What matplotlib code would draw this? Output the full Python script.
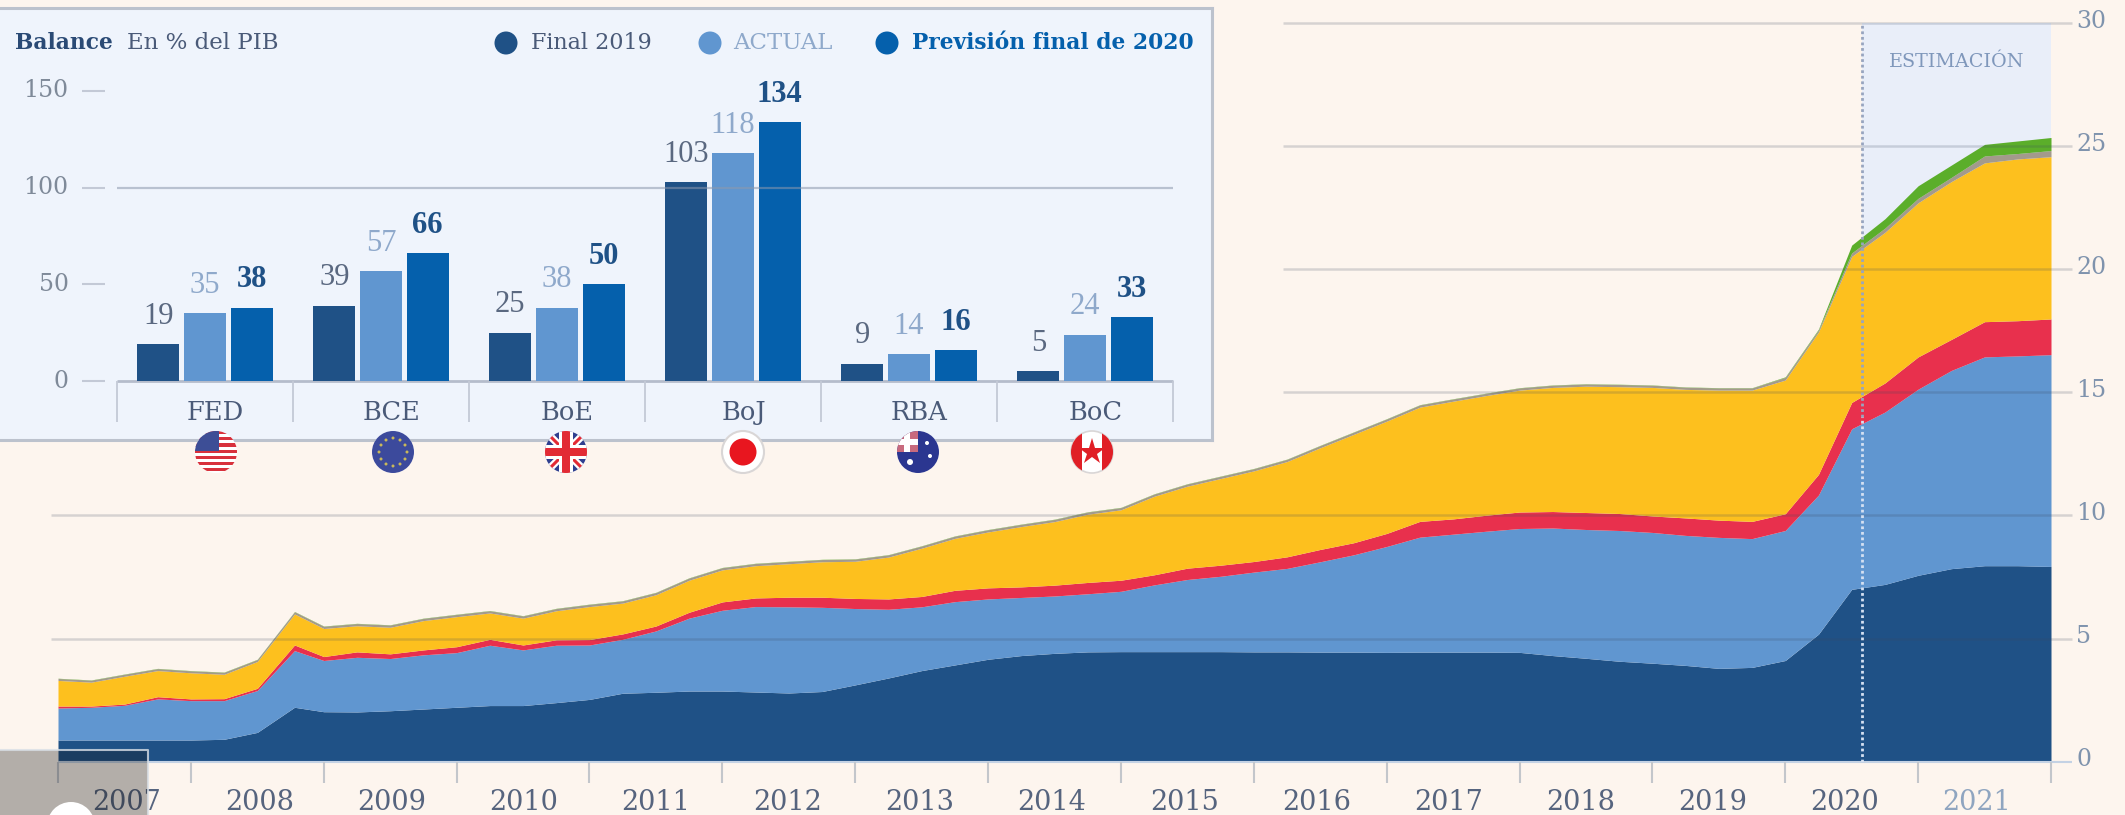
import matplotlib
matplotlib.use("Agg")
import matplotlib.pyplot as plt
from matplotlib.patches import Circle, Rectangle

# Datos del area: valores acumulados (trimestres 2007-2021)
anios = [2007 + t / 4 for t in range(61)]
anios[7] = 2008.78  # el pico de 2008 cae un poco despues del trimestre
azul_oscuro = [0.88, 0.88, 0.88, 0.88, 0.88, 0.91, 1.19, 2.21, 2.03, 2.02, 2.07, 2.14, 2.21, 2.28, 2.28, 2.40,
               2.53, 2.78, 2.82, 2.87, 2.87, 2.83, 2.79, 2.85, 3.12, 3.40, 3.70, 3.93, 4.16, 4.31, 4.40, 4.46,
               4.47, 4.47, 4.47, 4.47, 4.46, 4.46, 4.45, 4.45, 4.44, 4.45, 4.45, 4.45, 4.44, 4.31, 4.20, 4.08,
               4.00, 3.91, 3.79, 3.83, 4.11, 5.18, 7.00, 7.20, 7.57, 7.84, 7.96, 7.96, 7.93]
azul_claro = [2.18, 2.21, 2.29, 2.55, 2.48, 2.48, 2.89, 4.51, 4.11, 4.24, 4.19, 4.34, 4.43, 4.73, 4.54, 4.73,
              4.74, 4.97, 5.31, 5.83, 6.15, 6.30, 6.29, 6.27, 6.22, 6.19, 6.29, 6.50, 6.61, 6.67, 6.73, 6.82,
              6.92, 7.18, 7.40, 7.53, 7.70, 7.85, 8.12, 8.40, 8.74, 9.12, 9.24, 9.36, 9.47, 9.49, 9.43, 9.39,
              9.31, 9.19, 9.11, 9.06, 9.39, 10.83, 13.52, 14.20, 15.13, 15.89, 16.44, 16.48, 16.53]
rojo = [2.26, 2.26, 2.34, 2.64, 2.55, 2.56, 2.98, 4.74, 4.27, 4.46, 4.38, 4.54, 4.67, 4.97, 4.74, 4.95,
        4.96, 5.19, 5.51, 6.07, 6.49, 6.65, 6.68, 6.68, 6.63, 6.61, 6.71, 6.96, 7.06, 7.10, 7.17, 7.28,
        7.37, 7.59, 7.86, 7.98, 8.13, 8.32, 8.62, 8.89, 9.27, 9.76, 9.86, 10.01, 10.14, 10.16, 10.12, 10.08,
        9.98, 9.90, 9.81, 9.76, 10.07, 11.67, 14.59, 15.38, 16.44, 17.15, 17.87, 17.91, 17.98]
amarillo = [3.30, 3.23, 3.47, 3.70, 3.61, 3.55, 4.07, 6.00, 5.41, 5.52, 5.46, 5.73, 5.89, 6.04, 5.83, 6.13,
            6.30, 6.44, 6.78, 7.37, 7.79, 7.96, 8.04, 8.12, 8.14, 8.31, 8.67, 9.07, 9.33, 9.55, 9.75, 10.05,
            10.23, 10.78, 11.19, 11.50, 11.81, 12.19, 12.75, 13.29, 13.83, 14.40, 14.64, 14.87, 15.09, 15.20, 15.25, 15.23,
            15.20, 15.12, 15.09, 15.09, 15.50, 17.45, 20.52, 21.50, 22.70, 23.56, 24.32, 24.48, 24.57]
gris = [3.38, 3.31, 3.55, 3.78, 3.69, 3.63, 4.15, 6.09, 5.50, 5.61, 5.55, 5.82, 5.98, 6.13, 5.92, 6.22,
        6.39, 6.53, 6.87, 7.46, 7.88, 8.05, 8.13, 8.21, 8.23, 8.40, 8.76, 9.16, 9.42, 9.64, 9.84, 10.14,
        10.32, 10.87, 11.28, 11.59, 11.90, 12.28, 12.84, 13.38, 13.92, 14.49, 14.73, 14.96, 15.18, 15.29, 15.34, 15.32,
        15.29, 15.21, 15.18, 15.18, 15.61, 17.54, 20.66, 21.67, 22.88, 23.73, 24.60, 24.70, 24.82]
verde = [3.39, 3.32, 3.56, 3.79, 3.70, 3.64, 4.16, 6.10, 5.51, 5.62, 5.56, 5.83, 5.99, 6.14, 5.93, 6.23,
         6.40, 6.54, 6.88, 7.47, 7.89, 8.06, 8.14, 8.22, 8.24, 8.41, 8.77, 9.17, 9.43, 9.65, 9.85, 10.15,
         10.33, 10.88, 11.29, 11.60, 11.91, 12.29, 12.85, 13.39, 13.93, 14.50, 14.74, 14.97, 15.19, 15.30, 15.35, 15.33,
         15.30, 15.22, 15.19, 15.19, 15.63, 17.57, 20.98, 22.05, 23.39, 24.23, 25.07, 25.21, 25.35]

etiquetas_anios = ["2007", "2008", "2009", "2010", "2011", "2012", "2013", "2014",
                   "2015", "2016", "2017", "2018", "2019", "2020", "2021"]
inicio_estimacion = 2020.58

# Datos del panel de balance
bancos = ["FED", "BCE", "BoE", "BoJ", "RBA", "BoC"]
final_2019 = [19, 39, 25, 103, 9, 5]
actual = [35, 57, 38, 118, 14, 24]
prevision_2020 = [38, 66, 50, 134, 16, 33]

# Colores
FONDO = "#fdf5ee"
C_OSCURO = "#1f5186"
C_CLARO = "#6096d0"
C_ROJO = "#e8304d"
C_AMARILLO = "#fdc01e"
C_GRIS = "#a39a8c"
C_VERDE = "#5bae2a"
C_PREV = "#0560ac"
FUENTE = "DejaVu Serif"
FUENTE_VALORES = "Liberation Serif"

ANCHO, ALTO = 2125, 815


def caja(x0, y0, x1, y1):
    # pasa una caja en pixeles (origen arriba) a coordenadas de figura
    return [x0 / ANCHO, 1 - y1 / ALTO, (x1 - x0) / ANCHO, (y1 - y0) / ALTO]


fig = plt.figure(figsize=(ANCHO / 100, ALTO / 100), dpi=100, facecolor=FONDO)

# ---------- Grafico principal ----------
ax = fig.add_axes(caja(58, 23, 2051, 761.7), facecolor="none", zorder=1)
ax.set_xlim(2007, 2022)
ax.set_ylim(0, 30)
for lado in ax.spines.values():
    lado.set_visible(False)
ax.set_xticks([])
ax.set_yticks([])

ax.axvspan(inicio_estimacion, 2022, color="#e9eef9", lw=0, zorder=1)

ax.fill_between(anios, 0, azul_oscuro, color=C_OSCURO, lw=0, zorder=2)
ax.fill_between(anios, azul_oscuro, azul_claro, color=C_CLARO, lw=0, zorder=2)
ax.fill_between(anios, azul_claro, rojo, color=C_ROJO, lw=0, zorder=2)
ax.fill_between(anios, rojo, amarillo, color=C_AMARILLO, lw=0, zorder=2)
ax.fill_between(anios, amarillo, gris, color=C_GRIS, lw=0, zorder=2)
ax.fill_between(anios, gris, verde, color=C_VERDE, lw=0, zorder=2)

# lineas de rejilla: las altas empiezan a la derecha del panel
for valor in [5, 10]:
    ax.hlines(valor, 2006.95, 2022.16, color="#3c4a60", alpha=0.2, lw=1.8, zorder=3, clip_on=False)
for valor in [15, 20, 25, 30]:
    ax.hlines(valor, 2016.22, 2022.16, color="#3c4a60", alpha=0.2, lw=1.8, zorder=3, clip_on=False)
ax.hlines(0, 2007, 2022.16, color="#c4d2e4", lw=1.5, zorder=3, clip_on=False)

# linea punteada del inicio de la estimacion
ax.vlines(inicio_estimacion, 14, 30, color="#98a5bf", lw=2, linestyles=(0, (1, 1)), zorder=4)
ax.vlines(inicio_estimacion, 0, 14, color="#d5e1f2", lw=2, linestyles=(0, (1, 1)), zorder=4)
ax.text(2021.29, 28.4, "ESTIMACIÓN", family=FUENTE, fontsize=13.8, color="#7f97bb", ha="center", va="center", zorder=5)

# ejes a mano
for valor in range(0, 35, 5):
    ax.text(2022.19, valor + 0.08, str(valor), family=FUENTE, fontsize=17, color="#7f93ad", ha="left", va="center", clip_on=False)
for anio in range(2007, 2023):
    ax.vlines(anio, -0.87, 0, color="#c3c6cb", lw=1.5, clip_on=False, zorder=3)
for i, etiqueta in enumerate(etiquetas_anios):
    color = "#8fa5c0" if etiqueta == "2021" else "#56647e"
    ax.text(2007.52 + i * 0.9945, -1.65, etiqueta, family=FUENTE, fontsize=19.5, color=color,
            ha="center", va="center", clip_on=False)

# ---------- Panel de balance ----------
p = fig.add_axes(caja(-4, 8, 1212, 440), facecolor="#eff4fc", zorder=2)
p.set_xlim(-121 / 176, 1095 / 176)
p.set_ylim(-59 / 1.934, 373 / 1.934)
p.set_xticks([])
p.set_yticks([])
for lado in p.spines.values():
    lado.set_color("#bcc2cd")
    lado.set_linewidth(2.2)

separacion = 0.265
ancho_barra = 0.239
posiciones = [i + 0.5 for i in range(len(bancos))]

p.hlines(100, 0, 6, color="#8c98ad", alpha=0.55, lw=1.6, zorder=3)
p.hlines(0, 0, 6, color="#b5bccb", lw=2, zorder=1)
for i in range(len(bancos) + 1):
    p.vlines(i, -21, 0, color="#c3c9d6", lw=1.3)
for valor in [0, 50, 100, 150]:
    p.hlines(valor, -0.199, -0.068, color="#c3c9d6", lw=1.5)
    p.text(-0.275, valor, str(valor), family=FUENTE, fontsize=17, color="#7f8a99", ha="right", va="center")

series = [(final_2019, -separacion, C_OSCURO, "#5a6880", "normal"),
          (actual, 0, C_CLARO, "#8fa9cb", "normal"),
          (prevision_2020, separacion, C_PREV, "#1f5186", "bold")]
for valores, desplazamiento, color, color_texto, peso in series:
    xs = [x + desplazamiento for x in posiciones]
    p.bar(xs, valores, width=ancho_barra, color=color, lw=0, zorder=2)
    for x, v in zip(xs, valores):
        p.annotate(str(v), (x, v), xytext=(0, 9.5), textcoords="offset points", ha="center", va="bottom",
                   family=FUENTE_VALORES, fontsize=22, color=color_texto, weight=peso, zorder=4)

for x, banco in zip(posiciones, bancos):
    p.text(x + 0.06, -16.5, banco, family=FUENTE, fontsize=18.5, color="#4a5a78", ha="center", va="center")

# ---------- Capa en pixeles: leyenda, banderas y recuadro del video ----------
capa = fig.add_axes([0, 0, 1, 1], facecolor="none", zorder=3)
capa.set_xlim(0, ANCHO)
capa.set_ylim(ALTO, 0)
capa.axis("off")

capa.text(15, 43, "Balance", family=FUENTE, fontsize=15.7, weight="bold", color="#2a4a75", ha="left", va="center")
capa.text(127, 43, "En % del PIB", family=FUENTE, fontsize=16.5, color="#4a5a78", ha="left", va="center")
capa.add_patch(Circle((506, 43), 11.5, color=C_OSCURO, lw=0))
capa.text(531, 43, "Final 2019", family=FUENTE, fontsize=16, color="#4a5a78", ha="left", va="center")
capa.add_patch(Circle((710, 43), 11.5, color=C_CLARO, lw=0))
capa.text(733, 43, "ACTUAL", family=FUENTE, fontsize=16.5, color="#8fa9cb", ha="left", va="center")
capa.add_patch(Circle((887, 43), 11.5, color=C_PREV, lw=0))
capa.text(912, 43, "Previsión final de 2020", family=FUENTE, fontsize=15.7, weight="bold", color=C_PREV, ha="left", va="center")


def bandera(cx, cy, nombre):
    r = 21
    disco = Circle((cx, cy), r, transform=capa.transData, color="white", lw=0)
    capa.add_patch(disco)
    piezas = []
    if nombre == "FED":
        for k in range(7):
            piezas.append(Rectangle((cx - r, cy - r + k * 6.2), 2 * r, 3.1, color="#d8313c", lw=0))
        piezas.append(Rectangle((cx - r, cy - r), r * 1.15, r * 0.95, color="#3d4e96", lw=0))
    elif nombre == "BCE":
        piezas.append(Rectangle((cx - r, cy - r), 2 * r, 2 * r, color="#3c4a9c", lw=0))
    elif nombre == "BoE":
        piezas.append(Rectangle((cx - r, cy - r), 2 * r, 2 * r, color="#2f3f8f", lw=0))
        for signo, ancho in [(1, 7.5), (-1, 7.5)]:
            capa.plot([cx - r, cx + r], [cy - signo * r, cy + signo * r], color="white", lw=ancho * 0.72, zorder=3,
                      clip_path=disco, solid_capstyle="butt")
            capa.plot([cx - r, cx + r], [cy - signo * r, cy + signo * r], color="#e22b35", lw=2.2, zorder=3,
                      clip_path=disco, solid_capstyle="butt")
        piezas.append(Rectangle((cx - 7, cy - r), 14, 2 * r, color="white", lw=0, zorder=4))
        piezas.append(Rectangle((cx - r, cy - 7), 2 * r, 14, color="white", lw=0, zorder=4))
        piezas.append(Rectangle((cx - 4, cy - r), 8, 2 * r, color="#e22b35", lw=0, zorder=5))
        piezas.append(Rectangle((cx - r, cy - 4), 2 * r, 8, color="#e22b35", lw=0, zorder=5))
    elif nombre == "BoJ":
        capa.add_patch(Circle((cx, cy), r, fill=False, ec="#d9d6d6", lw=1.5))
        capa.add_patch(Circle((cx, cy), 13.5, color="#e8161f", lw=0))
    elif nombre == "RBA":
        piezas.append(Rectangle((cx - r, cy - r), 2 * r, 2 * r, color="#2b3690", lw=0))
        piezas.append(Rectangle((cx - r, cy - r), r, r, color="#c86a7e", lw=0))
        piezas.append(Rectangle((cx - r, cy - r * 0.62), r, 6, color="white", lw=0))
        piezas.append(Rectangle((cx - r * 0.65, cy - r), 6, r, color="white", lw=0))
        piezas.append(Circle((cx - 8, cy + 10), 3, color="white", lw=0))
        piezas.append(Circle((cx + 9, cy - 9), 2, color="white", lw=0))
        piezas.append(Circle((cx + 12, cy + 4), 2, color="white", lw=0))
    elif nombre == "BoC":
        piezas.append(Rectangle((cx - r, cy - r), 11, 2 * r, color="#e01f26", lw=0))
        piezas.append(Rectangle((cx + r - 11, cy - r), 11, 2 * r, color="#e01f26", lw=0))
        capa.add_patch(Circle((cx, cy), r, fill=False, ec="#d9d6d6", lw=1.2))
        capa.plot([cx], [cy], marker="*", ms=20, color="#e01f26", mew=0, zorder=4)
    for pieza in piezas:
        capa.add_patch(pieza)
        pieza.set_clip_path(disco)
    if nombre == "BCE":
        for dx, dy in [(0, -14), (7, -12), (12, -7), (14, 0), (12, 7), (7, 12), (0, 14), (-7, 12), (-12, 7), (-14, 0), (-12, -7), (-7, -12)]:
            capa.add_patch(Circle((cx + dx, cy + dy), 1.5, color="#c9b85a", lw=0, zorder=4))


for cx, nombre in zip([216, 393, 566, 743, 918, 1092], bancos):
    bandera(cx, 452, nombre)

# recuadro gris semitransparente abajo a la izquierda
capa.add_patch(Rectangle((-2, 750), 150, 70, fc="#111111", alpha=0.31, lw=0, zorder=6))
capa.plot([0, 148, 148], [750, 750, 815], color="#d9dfe6", alpha=0.8, lw=1.5, zorder=7)
capa.add_patch(Circle((71, 826), 24, color="white", lw=0, zorder=8))

fig.savefig("out.png", dpi=100, facecolor=FONDO)
